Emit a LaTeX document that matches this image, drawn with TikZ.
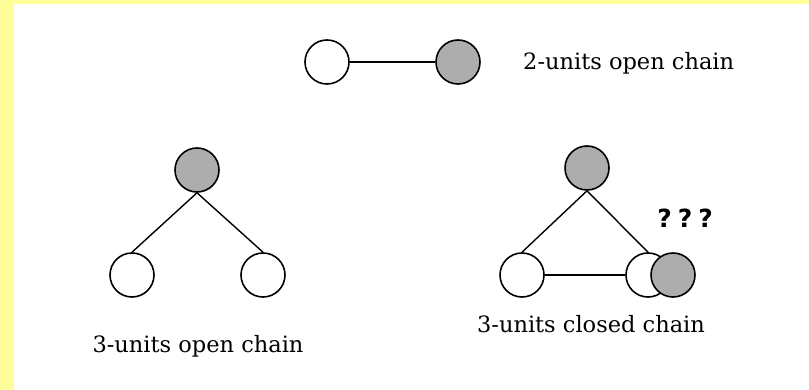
\documentclass[tikz,border=0pt]{standalone}
\usepackage{fontspec}
\newfontfamily\chainfont{DejaVu Serif}
\newfontfamily\askfont{DejaVu Sans}
\usepackage{xcolor}
\usetikzlibrary{positioning}

\definecolor{paleyellow}{HTML}{FFFF99}

\begin{document}
\begin{tikzpicture}[x=1pt, y=-1pt, node distance=131pt, on grid,
    unit/.style={circle, draw, line width=1.6pt, minimum size=44pt, inner sep=0pt, fill=white},
    filled unit/.style={unit, fill=black!32},
    bond/.style={line width=1.4pt},
    caption/.style={font=\chainfont\fontsize{22.5}{26}\selectfont, inner sep=0pt, anchor=base}]
        % Rand und Hintergrund
        \fill[paleyellow] (0,0) rectangle (809,390);
        \fill[white] (14,4) rectangle (809,390);

        % Kette aus 2 Einheiten
        \node[unit] (a_1) at (327,62) {};
        \node[filled unit] (a_2) [right=of a_1] {};
        \node[caption, anchor=base west] (t_a) at (523,70) {2-units open chain};

        % offene Kette aus 3 Einheiten
        \node[filled unit] (b_1) at (197,170) {};
        \node[unit] (b_2) [below left=105pt and 65pt of b_1] {};
        \node[unit] (b_3) [below right=105pt and 66pt of b_1] {};
        \node[caption] (t_b) at (198,352) {3-units open chain};

        % geschlossene Kette aus 3 Einheiten
        \node[filled unit] (c_1) at (587,168) {};
        \node[unit] (c_2) [below left=107pt and 65pt of c_1] {};
        \node[unit] (c_3) [below right=107pt and 61pt of c_1] {};
        \node[filled unit] (c_4) [right=25pt of c_3] {};
        \node[font=\askfont\bfseries\fontsize{25}{28}\selectfont, inner sep=0pt, anchor=base]
            (q) at (685,228) {?\hspace{6pt}?\hspace{6pt}?};
        \node[caption] (t_c) at (591,332) {3-units closed chain};

        % Bindungen
        \draw[bond] (a_1) -- (a_2);
        \draw[bond] (b_1.south) -- (b_2.north);
        \draw[bond] (b_1.south) -- (b_3.north);
        \draw[bond] (c_1.south) -- (c_2.north);
        \draw[bond] (c_1.south) -- (c_3.north);
        \draw[bond] (c_2) -- (c_3);
\end{tikzpicture}
\end{document}
